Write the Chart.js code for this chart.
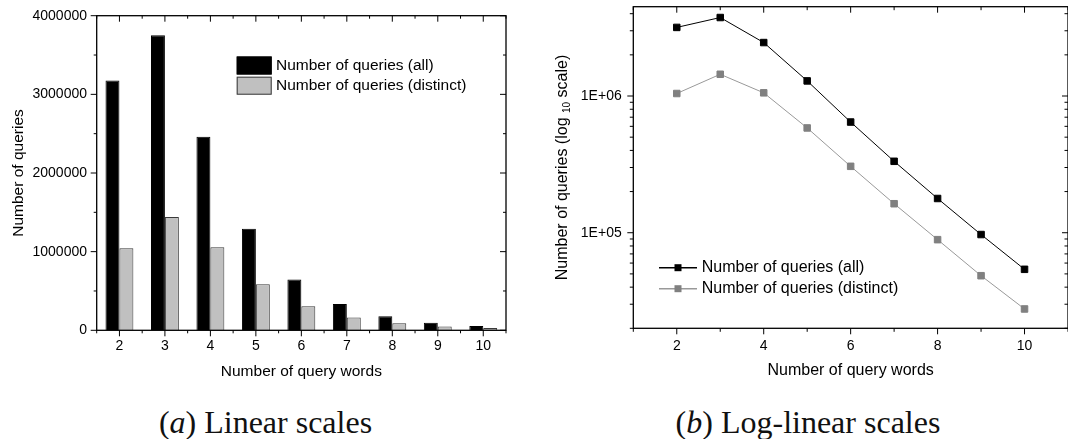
<!DOCTYPE html>
<html>
<head>
<title>Number of queries by query length</title>
<script src="https://cdn.jsdelivr.net/npm/chart.js"></script>
<style>
body { margin: 0; background: #fff; }
#wrap { position: relative; width: 1068px; height: 439px; overflow: hidden; }
#wrap canvas { position: absolute; top: 0; }
.caption { position: absolute; top: 406px; font: 32px "Liberation Serif", "Times New Roman", serif; line-height: 32px; text-align: center; color: #111; white-space: nowrap; }
</style>
</head>
<body>
<div id="wrap">
<canvas id="barChart" width="540" height="390" style="left:0"></canvas>
<canvas id="logChart" width="528" height="390" style="left:540px"></canvas>
<div class="caption" style="left:0;width:531px">(<i>a</i>) Linear scales</div>
<div class="caption" style="left:540px;width:536px">(<i>b</i>) Log-linear scales</div>
</div>
<script>
// query length (words) and number of queries
const queryWords = [2, 3, 4, 5, 6, 7, 8, 9, 10];
const allQueries = [3175000, 3750000, 2460000, 1290000, 645000, 333000, 178000, 97000, 54000];
const distinctQueries = [1043000, 1442000, 1055000, 584000, 306000, 163000, 89000, 48500, 27700];

// axis ticks
const linearTicks = [0, 1000000, 2000000, 3000000, 4000000];
const logTicks = [100000, 1000000];
const wordTicks = [2, 4, 6, 8, 10];

const family = '"Liberation Sans", Arial, Helvetica, sans-serif';
Chart.defaults.font.family = family;
Chart.defaults.color = '#000';

// minor tick positions
const linearMinor = linearTicks.slice(1).map(v => v - 500000);
const logMinor = [];
for (let e = 4; e <= 6; e++) {
    for (let k = 2; k <= 9; k++) logMinor.push(k * Math.pow(10, e));
}
const wordMinor = [1, 3, 5, 7, 9, 11];

// box around the plot with outward ticks on bottom/left and inward ticks on top/right
const frameTicks = {
    id: 'frameTicks',
    afterDraw(chart, args, o) {
        const { ctx, chartArea: a, scales } = chart;
        const x = scales.x, y = scales.y;
        ctx.save();
        ctx.strokeStyle = '#000';
        ctx.lineWidth = 1.3;
        ctx.strokeRect(a.left, a.top, a.right - a.left, a.bottom - a.top);
        ctx.lineWidth = 1;
        const seg = (x1, y1, x2, y2) => {
            ctx.beginPath(); ctx.moveTo(x1, y1); ctx.lineTo(x2, y2); ctx.stroke();
        };
        [[o.xMajor, o.major], [o.xMinor, o.minor]].forEach(([vals, len]) => {
            vals.forEach(v => {
                const px = x.getPixelForValue(v);
                if (px < a.left - 0.5 || px > a.right + 0.5) return;
                seg(px, a.bottom, px, a.bottom + len);
                seg(px, a.top, px, a.top + len);
            });
        });
        [[o.yMajor, o.major], [o.yMinor, o.minor]].forEach(([vals, len]) => {
            vals.forEach(v => {
                const py = y.getPixelForValue(v);
                if (py < a.top - 0.5 || py > a.bottom + 0.5) return;
                seg(a.left - len, py, a.left, py);
                seg(a.right - len, py, a.right, py);
            });
        });
        ctx.restore();
    }
};

// legend placed inside the plot
const insideLegend = {
    id: 'insideLegend',
    afterDraw(chart, args, o) {
        const ctx = chart.ctx;
        ctx.save();
        ctx.font = o.size + 'px ' + family;
        ctx.textBaseline = 'middle';
        chart.data.datasets.forEach((ds, i) => {
            const cy = o.y + i * o.rowH;
            if (o.kind === 'box') {
                ctx.fillStyle = ds.backgroundColor;
                ctx.fillRect(o.x, cy - o.boxH / 2, o.boxW, o.boxH);
                ctx.strokeStyle = ds.borderColor;
                ctx.lineWidth = 1;
                ctx.strokeRect(o.x + 0.5, cy - o.boxH / 2 + 0.5, o.boxW - 1, o.boxH - 1);
            } else {
                ctx.strokeStyle = ds.borderColor;
                ctx.lineWidth = 1.5;
                ctx.beginPath(); ctx.moveTo(o.x, cy); ctx.lineTo(o.x + o.boxW, cy); ctx.stroke();
                ctx.fillStyle = ds.pointBackgroundColor;
                ctx.fillRect(o.x + o.boxW / 2 - 3.5, cy - 3.5, 7, 7);
            }
            ctx.fillStyle = '#000';
            ctx.fillText(ds.label, o.textX, cy);
        });
        ctx.restore();
    }
};

// y title with subscript for the log chart
const logTitle = {
    id: 'logTitle',
    afterDraw(chart, args, o) {
        if (!o.x) return;
        const { ctx, chartArea: a } = chart;
        const big = o.size + 'px ' + family;
        const small = Math.round(o.size * 0.6) + 'px ' + family;
        const parts = [['Number of queries (log ', big, 0], ['10', small, 4], [' scale)', big, 0]];
        ctx.save();
        ctx.translate(o.x, (a.top + a.bottom) / 2);
        ctx.rotate(-Math.PI / 2);
        ctx.textBaseline = 'middle';
        ctx.fillStyle = '#000';
        let w = 0;
        parts.forEach(p => { ctx.font = p[1]; w += ctx.measureText(p[0]).width; });
        let cx = -w / 2;
        parts.forEach(p => {
            ctx.font = p[1];
            ctx.fillText(p[0], cx, p[2]);
            cx += ctx.measureText(p[0]).width;
        });
        ctx.restore();
    }
};

const noGrid = { display: false, drawTicks: false };

// fixed axis box sizes, no extra room for edge labels
const fixHeight = h => s => { s.height = h; s.paddingLeft = 0; s.paddingRight = 0; };
const fixWidth = w => s => { s.width = w; s.paddingTop = 0; s.paddingBottom = 0; };

new Chart(document.getElementById('barChart'), {
    type: 'bar',
    data: {
        labels: queryWords.map(String),
        datasets: [{
            label: 'Number of queries (all)',
            data: allQueries,
            backgroundColor: '#000',
            borderColor: '#000',
            borderWidth: 1,
            categoryPercentage: 0.613,
            barPercentage: 1
        }, {
            label: 'Number of queries (distinct)',
            data: distinctQueries,
            backgroundColor: '#c0c0c0',
            borderColor: '#3a3a3a',
            borderWidth: 1,
            categoryPercentage: 0.613,
            barPercentage: 1
        }]
    },
    options: {
        responsive: false,
        animation: false,
        layout: { autoPadding: false, padding: { top: 15.7, right: 34, left: 0, bottom: 0 } },
        plugins: {
            legend: { display: false },
            tooltip: { enabled: false },
            frameTicks: {
                xMajor: queryWords.map((w, i) => i),
                xMinor: queryWords.map((w, i) => i - 0.5).concat([queryWords.length - 0.5]),
                yMajor: linearTicks, yMinor: linearMinor,
                major: 6, minor: 3
            },
            insideLegend: { kind: 'box', x: 236.7, y: 65.5, rowH: 20.2, boxW: 35, boxH: 18, textX: 276, size: 15.5 }
        },
        scales: {
            x: {
                grid: noGrid,
                border: { display: false },
                ticks: { padding: 7, font: { size: 14 }, maxRotation: 0 },
                title: { display: true, text: 'Number of query words', font: { size: 15.5 }, padding: { bottom: 9 } },
                afterFit: fixHeight(59.7)
            },
            y: {
                min: 0, max: 4000000,
                grid: noGrid,
                border: { display: false },
                afterBuildTicks: s => { s.ticks = linearTicks.map(v => ({ value: v })); },
                ticks: { padding: 9.7, font: { size: 14 }, callback: v => String(v) },
                title: { display: true, text: 'Number of queries', font: { size: 15.5 }, padding: { top: 9.2 } },
                afterFit: fixWidth(96.7)
            }
        }
    },
    plugins: [frameTicks, insideLegend]
});

new Chart(document.getElementById('logChart'), {
    type: 'line',
    data: {
        datasets: [{
            label: 'Number of queries (all)',
            data: queryWords.map((w, i) => ({ x: w, y: allQueries[i] })),
            borderColor: '#000',
            borderWidth: 1,
            pointStyle: 'rect',
            pointRadius: 4.6,
            pointBorderWidth: 1,
            pointBackgroundColor: '#000',
            pointBorderColor: '#000'
        }, {
            label: 'Number of queries (distinct)',
            data: queryWords.map((w, i) => ({ x: w, y: distinctQueries[i] })),
            borderColor: '#999',
            borderWidth: 1,
            pointStyle: 'rect',
            pointRadius: 4.6,
            pointBorderWidth: 1,
            pointBackgroundColor: '#808080',
            pointBorderColor: '#808080'
        }]
    },
    options: {
        responsive: false,
        animation: false,
        layout: { autoPadding: false, padding: { top: 6.7, right: 0, left: 0, bottom: 0 } },
        plugins: {
            legend: { display: false },
            tooltip: { enabled: false },
            frameTicks: {
                xMajor: wordTicks, xMinor: wordMinor,
                yMajor: logTicks, yMinor: logMinor,
                major: 6, minor: 3.5
            },
            insideLegend: { kind: 'line', x: 119, y: 267.7, rowH: 21, boxW: 38, textX: 161.7, size: 16 },
            logTitle: { x: 23, size: 16 }
        },
        scales: {
            x: {
                type: 'linear', min: 1, max: 11,
                grid: noGrid,
                border: { display: false },
                afterBuildTicks: s => { s.ticks = wordTicks.map(v => ({ value: v })); },
                ticks: { padding: 9, font: { size: 14 } },
                title: { display: true, text: 'Number of query words', font: { size: 16 }, padding: { bottom: 9.7 } },
                afterFit: fixHeight(61.7)
            },
            y: {
                type: 'logarithmic', min: 20000, max: 4500000,
                grid: noGrid,
                border: { display: false },
                afterBuildTicks: s => { s.ticks = logTicks.map(v => ({ value: v })); },
                ticks: {
                    padding: 11.6, font: { size: 14 },
                    callback: v => '1E+' + String(Math.round(Math.log10(v))).padStart(2, '0')
                },
                afterFit: fixWidth(93.3)
            }
        }
    },
    plugins: [frameTicks, insideLegend, logTitle]
});
</script>
</body>
</html>
